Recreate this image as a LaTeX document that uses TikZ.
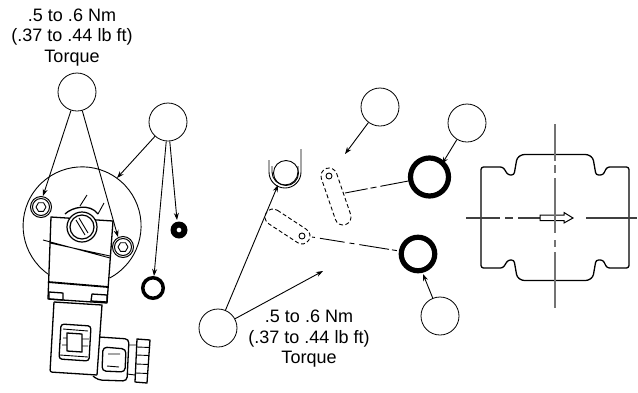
\documentclass[tikz,border=0pt]{standalone}
\usepackage{fontspec}
\setmainfont{Liberation Sans}
\usetikzlibrary{arrows.meta}
\tikzset{
 callout/.style={circle,draw,line width=0.8pt,minimum size=38pt,inner sep=0pt},
 lead/.style={line width=0.9pt,-{Stealth[length=7pt,width=5pt]},shorten >=0pt},
 ln/.style={line width=0.9pt,line join=round},
 hv/.style={line width=1.3pt,line join=round},
 hid/.style={line width=0.9pt,dash pattern=on 4pt off 2.5pt},
 cen/.style={line width=1.1pt,black!75},
 cenv/.style={line width=1.3pt,black!55},
 note/.style={align=center,font=\fontsize{18}{20.5}\selectfont,inner sep=0pt}
}
\begin{document}
\begin{tikzpicture}[x=1pt,y=-1pt]
\useasboundingbox (0,0) rectangle (638,392);
% --- labels
\node[note] (t1) at (72,37.5) {.5 to .6 Nm\\(.37 to .44 lb ft)\\Torque};
\node[note] (t2) at (309,339) {.5 to .6 Nm\\(.37 to .44 lb ft)\\Torque};
% --- callouts
\node[callout] (c1) at (77,92) {};
\node[callout] (c2) at (168,122) {};
\node[callout] (c3) at (380,107) {};
\node[callout] (c4) at (467,123) {};
\node[callout] (c5) at (440,316) {};
\node[callout] (c6) at (218,328) {};
% --- solenoid
\draw[ln] (48,274) arc[start angle=125.3,delta angle=297,radius=59];
\draw[hv] (65,214) .. controls (72,207) and (90,203) .. (98,214);
\draw[ln] (80,206) -- (87,195) (98,214) -- (104,203);
\draw[hv] (51,217) -- (113,221) -- (107,303) -- (48,299) -- cycle;
\draw[ln] (43,240) -- (110,258) (50,243) -- (110,256);
\draw[line width=1.8pt] (48,282) -- (108,287);
\draw[hv] (49,292) -- (63,293) -- (63,300) -- (49,299) -- cycle;
\draw[hv] (92,294) -- (107,295) -- (107,302) -- (91,301) -- cycle;
\node[circle,draw,fill=white,line width=1.2pt,minimum size=30pt,inner sep=0pt] (cap) at (82,227) {};
\node[circle,draw,line width=1.2pt,minimum size=24pt,inner sep=0pt] (capin) at (82,227) {};
\draw[ln] (76,220) -- (85,235) (79,218) -- (88,233);
\node[circle,draw,line width=1pt,minimum size=21pt,inner sep=0pt] (b1) at (41,207) {};
\node[circle,draw,line width=1pt,minimum size=17pt,inner sep=0pt] (b1i) at (41,207) {};
\draw[ln] (36,207) -- (38.5,202.7) -- (43.5,202.7) -- (46,207) -- (43.5,211.3) -- (38.5,211.3) -- cycle;
\node[circle,draw,line width=1pt,minimum size=21pt,inner sep=0pt] (b2) at (123,247) {};
\node[circle,draw,line width=1pt,minimum size=17pt,inner sep=0pt] (b2i) at (123,247) {};
\draw[ln] (118,247) -- (120.5,242.7) -- (125.5,242.7) -- (128,247) -- (125.5,251.3) -- (120.5,251.3) -- cycle;
% coil
\draw[hv,rounded corners=2pt] (54,302) -- (50,372) -- (97,375);
\draw[hv] (54,302) -- (102,305) -- (97,375);
\draw[hv,rounded corners=3pt] (61,324) -- (91,326) -- (89,361) -- (59,359) -- cycle;
\draw[hv] (67,333) -- (82,334) -- (82,352) -- (67,351) -- cycle;
\draw[ln] (63,329) -- (88,331) (60,355) -- (88,357)
 (63,338) -- (67,338) (62,345) -- (67,345) (82,339) -- (89,339) (82,346) -- (88,346);
% connector
\draw[hv,rounded corners=4pt] (99,337) -- (129,339) -- (127,381) -- (98,380) -- (93,376);
\draw[hv,rounded corners=4pt] (103,347) -- (126,349) -- (125,372) -- (102,371) -- cycle;
\draw[ln] (108,354) -- (120,354) (107,366) -- (119,367);
\draw[ln] (129,345) -- (137,345) (127,374) -- (135,375);
\draw[hv] (137,339) -- (150,340) -- (147,383) -- (135,382) -- cycle;
\draw[ln] (137,347) -- (150,347.5) (136.5,355) -- (149,355.5) (136,364) -- (148.5,364.5) (135.5,373) -- (148,373.5);
% loose seals
\node[circle,draw,line width=3.5pt,minimum size=20.5pt,inner sep=0pt] (s1) at (153,288) {};
\fill[black,even odd rule] (179,230) circle[radius=8.5] (179,230) circle[radius=2.5];
% --- centre group
\node[circle,draw,line width=0.9pt,minimum size=25pt,inner sep=0pt] (oc) at (286,173) {};
\draw[ln] (269,160) -- (269,172) arc[start angle=180,delta angle=-180,radius=16] -- (301,149);
\draw[ln] (272,166) -- (272,172) arc[start angle=180,delta angle=-180,radius=13] -- (298,166);
\draw[hid] (336.6,173.4) -- (350.6,214.4) arc[start angle=-19,delta angle=180,radius=8] -- (321.4,178.6) arc[start angle=161,delta angle=180,radius=8] -- cycle;
\node[circle,draw,line width=0.9pt,minimum size=6pt,inner sep=0pt] (h1) at (329,176) {};
\draw[hid] (277.4,210.3) -- (306.4,229.3) arc[start angle=-56.7,delta angle=180,radius=8] -- (268.6,223.7) arc[start angle=123.3,delta angle=180,radius=8] -- cycle;
\node[circle,draw,line width=0.9pt,minimum size=6pt,inner sep=0pt] (h2) at (302,236) {};
\node[circle,draw,line width=5.2pt,minimum size=38pt,inner sep=0pt] (ra) at (429.5,177) {};
\node[circle,draw,line width=5.2pt,minimum size=33.5pt,inner sep=0pt] (rb) at (418,254) {};
\coordinate (p1) at (345,193);
\coordinate (p2) at (312,237);
\draw[line width=0.9pt,dash pattern=on 23pt off 3pt on 6pt off 4pt on 30pt] (p1) -- (ra);
\draw[line width=0.9pt,dash pattern=on 3pt off 5pt on 25pt off 5pt on 5pt off 5pt on 30pt] (p2) -- (rb);
% --- valve side view
\draw[hv,rounded corners=2.5pt] (481,167) -- (503,167) -- (508,175) -- (514,175) -- (517,158) -- (522,154.5) -- (588,154.5) -- (593,158) -- (596,175) -- (603,175) -- (607,167) -- (629,167) -- (629,268) -- (607,268) -- (603,260) -- (596,260) -- (593,277) -- (588,280.5) -- (522,280.5) -- (517,277) -- (514,260) -- (508,260) -- (503,268) -- (481,268) -- cycle;
\coordinate (hl) at (466,218);
\coordinate (hr) at (637,218);
\coordinate (vt) at (555,124);
\coordinate (vb) at (555,308);
\draw[cen,dash pattern=on 34pt off 5pt on 8pt off 5pt on 55pt off 13pt on 60pt] (hl) -- (hr);
\draw[line width=1pt,fill=white] (540,215) -- (564,215) -- (564,212.5) -- (573,218) -- (564,223) -- (564,220.5) -- (540,220.5) -- cycle;
\draw[cenv,dash pattern=on 37pt off 4pt on 8pt off 5pt on 55pt off 7pt on 7pt off 5pt on 60pt] (vt) -- (vb);
% --- leaders
\coordinate (a1) at (43,196);
\coordinate (a2) at (118,237);
\coordinate (a3) at (117,178);
\coordinate (a4) at (177,220);
\coordinate (a5) at (154,276);
\coordinate (a6) at (345,154);
\coordinate (a7) at (442,164);
\coordinate (a8) at (423,274);
\coordinate (a9) at (278,185);
\coordinate (a10) at (323,271);
\draw[lead] (c1) -- (a1);
\draw[lead] (c1) -- (a2);
\draw[lead] (c2) -- (a3);
\draw[lead] (c2) -- (a4);
\draw[lead] (c2) -- (a5);
\draw[lead] (c3) -- (a6);
\draw[lead] (c4) -- (a7);
\draw[lead] (c5) -- (a8);
\draw[lead] (c6) -- (a9);
\draw[lead] (c6) -- (a10);
\end{tikzpicture}
\end{document}
